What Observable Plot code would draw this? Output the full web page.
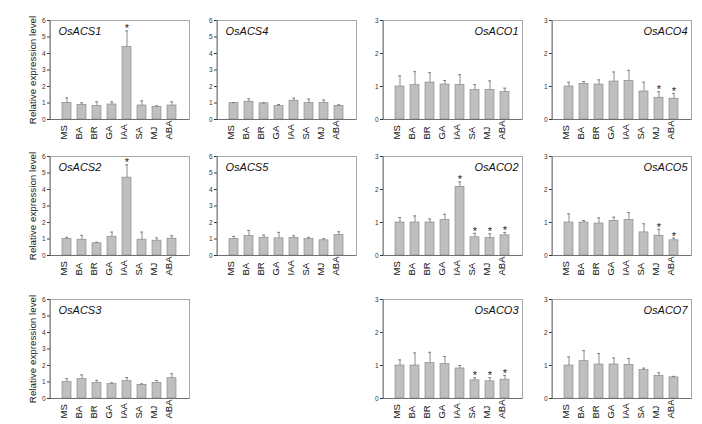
<!DOCTYPE html>
<html><head><meta charset="utf-8">
<script src="https://cdn.jsdelivr.net/npm/d3@7"></script>
<script src="https://cdn.jsdelivr.net/npm/@observablehq/plot@0.6"></script>
<style>
body{margin:0;background:#fff}
#c{position:relative;width:702px;height:424px;background:#fff;font-family:"Liberation Sans",Arial,sans-serif}
#c svg{position:absolute;overflow:visible}
</style>
</head><body><div id="c"></div>
<script>
const categories = ["MS","BA","BR","GA","IAA","SA","MJ","ABA"];
const yTitle = "Relative expression level";
const acsTicks = [0,1,2,3,4,5,6];
const acoTicks = [0,1,2,3];

const osACS1 = [1.01,0.89,0.83,0.91,4.40,0.85,0.77,0.85];
const osACS1Err = [0.30,0.12,0.24,0.16,0.97,0.28,0.06,0.22];
const osACS1Sig = ["IAA"];
const osACS4 = [1.00,1.08,0.98,0.81,1.14,1.00,1.00,0.83];
const osACS4Err = [0.02,0.18,0.02,0.10,0.16,0.24,0.18,0.06];
const osACS4Sig = [];
const osACO1 = [1.00,1.04,1.12,1.06,1.05,0.89,0.90,0.83];
const osACO1Err = [0.32,0.41,0.30,0.12,0.31,0.17,0.27,0.12];
const osACO1Sig = [];
const osACO4 = [1.00,1.08,1.06,1.15,1.17,0.85,0.66,0.63];
const osACO4Err = [0.13,0.07,0.14,0.29,0.32,0.28,0.18,0.16];
const osACO4Sig = ["MJ","ABA"];
const osACS2 = [1.00,0.96,0.74,1.14,4.72,0.96,0.90,1.02];
const osACS2Err = [0.10,0.26,0.06,0.28,0.78,0.46,0.16,0.18];
const osACS2Sig = ["IAA"];
const osACS5 = [1.00,1.18,1.08,1.04,1.06,1.00,0.92,1.24];
const osACS5Err = [0.16,0.34,0.16,0.36,0.14,0.10,0.10,0.20];
const osACS5Sig = [];
const osACO2 = [1.00,1.00,1.00,1.07,2.08,0.55,0.53,0.61];
const osACO2Err = [0.15,0.20,0.11,0.18,0.15,0.12,0.13,0.09];
const osACO2Sig = ["IAA","SA","MJ","ABA"];
const osACO5 = [1.00,1.00,0.97,1.05,1.08,0.70,0.60,0.46];
const osACO5Err = [0.26,0.06,0.17,0.11,0.22,0.26,0.20,0.07];
const osACO5Sig = ["MJ","ABA"];
const osACS3 = [1.00,1.17,0.93,0.87,1.05,0.83,0.95,1.23];
const osACS3Err = [0.20,0.26,0.17,0.08,0.22,0.06,0.14,0.27];
const osACS3Sig = [];
const osACO3 = [1.00,1.00,1.07,1.04,0.91,0.55,0.52,0.57];
const osACO3Err = [0.17,0.38,0.33,0.23,0.09,0.08,0.11,0.13];
const osACO3Sig = ["SA","MJ","ABA"];
const osACO7 = [1.00,1.13,1.03,1.03,1.02,0.86,0.69,0.64];
const osACO7Err = [0.26,0.32,0.33,0.20,0.19,0.06,0.09,0.03];
const osACO7Sig = [];

const panels = [
  {name:"OsACS1", mean:osACS1, err:osACS1Err, sig:osACS1Sig, ticks:acsTicks, row:0, col:0},
  {name:"OsACS4", mean:osACS4, err:osACS4Err, sig:osACS4Sig, ticks:acsTicks, row:0, col:1},
  {name:"OsACO1", mean:osACO1, err:osACO1Err, sig:osACO1Sig, ticks:acoTicks, row:0, col:2},
  {name:"OsACO4", mean:osACO4, err:osACO4Err, sig:osACO4Sig, ticks:acoTicks, row:0, col:3},
  {name:"OsACS2", mean:osACS2, err:osACS2Err, sig:osACS2Sig, ticks:acsTicks, row:1, col:0},
  {name:"OsACS5", mean:osACS5, err:osACS5Err, sig:osACS5Sig, ticks:acsTicks, row:1, col:1},
  {name:"OsACO2", mean:osACO2, err:osACO2Err, sig:osACO2Sig, ticks:acoTicks, row:1, col:2},
  {name:"OsACO5", mean:osACO5, err:osACO5Err, sig:osACO5Sig, ticks:acoTicks, row:1, col:3},
  {name:"OsACS3", mean:osACS3, err:osACS3Err, sig:osACS3Sig, ticks:acsTicks, row:2, col:0},
  {name:"OsACO3", mean:osACO3, err:osACO3Err, sig:osACO3Sig, ticks:acoTicks, row:2, col:2},
  {name:"OsACO7", mean:osACO7, err:osACO7Err, sig:osACO7Sig, ticks:acoTicks, row:2, col:3}
];

const colLeft = [50, 217, 383, 552];
const rowTop = [20, 156, 299];
const W = 139, H = 99;
const font = '"Liberation Sans", Arial, sans-serif';
const container = document.getElementById("c");

function leftLine(index, scales, values, dimensions) {
  const d = dimensions;
  const g = d3.create("svg:line")
    .attr("x1", d.marginLeft).attr("x2", d.marginLeft)
    .attr("y1", d.marginTop).attr("y2", d.height - d.marginBottom)
    .attr("stroke", "#7a7a7a");
  return g.node();
}

for (const p of panels) {
  const mL = p.col === 0 ? 50 : 22, mR = 8, mT = 8, mB = 32;
  const data = categories.map((c, i) => ({cat: c, v: p.mean[i], e: p.mean[i] + p.err[i], sig: p.sig.includes(c)}));
  const isLeft = p.col < 2;
  const marks = [
    Plot.frame({stroke: "#a8a8a8"}),
    Plot.barY(data, {x: "cat", y: "v", fill: "#bfbfbf", stroke: "#808080", strokeWidth: 0.6}),
    Plot.ruleX(data, {x: "cat", y1: "v", y2: "e", stroke: "#707070", strokeWidth: 0.8}),
    Plot.tickY(data, {x: "cat", y: "e", stroke: "#707070", strokeWidth: 0.8, insetLeft: 3, insetRight: 3}),
    Plot.text(data.filter(d => d.sig), {x: "cat", y: "e", text: () => "*", dy: -2, fontSize: 11, fill: "#222"}),
    Plot.axisY({ticks: p.ticks, tickFormat: d => String(d), tickSize: 3, tickPadding: 2, fontSize: 6.5, color: "#333"}),
    leftLine,
    Plot.ruleY([0], {stroke: "#707070"}),
    Plot.text(categories, {x: d => d, frameAnchor: "bottom", dy: 20, rotate: -90, textAnchor: "start", fontSize: 9.5, fill: "#111"}),
    Plot.text([p.name], {
      frameAnchor: isLeft ? "top-left" : "top-right",
      dx: isLeft ? 8 : -4, dy: 14, lineAnchor: "bottom",
      textAnchor: isLeft ? "start" : "end",
      fontSize: 11, fontStyle: "italic", fill: "#111"
    })
  ];
  if (p.col === 0) {
    marks.push(Plot.text([yTitle], {frameAnchor: "left", dx: -18, rotate: -90, textAnchor: "middle", fontSize: 9.8, fill: "#222"}));
  }
  const plot = Plot.plot({
    width: mL + W + mR, height: mT + H + mB,
    marginLeft: mL, marginRight: mR, marginTop: mT, marginBottom: mB,
    style: {fontFamily: font, background: "transparent", overflow: "visible"},
    x: {domain: categories, paddingInner: 0.37, paddingOuter: 0.55, axis: null},
    y: {domain: [0, p.ticks[p.ticks.length - 1]], axis: null},
    marks
  });
  plot.style.left = (colLeft[p.col] - mL) + "px";
  plot.style.top = (rowTop[p.row] - mT) + "px";
  container.appendChild(plot);
}
</script></body></html>
